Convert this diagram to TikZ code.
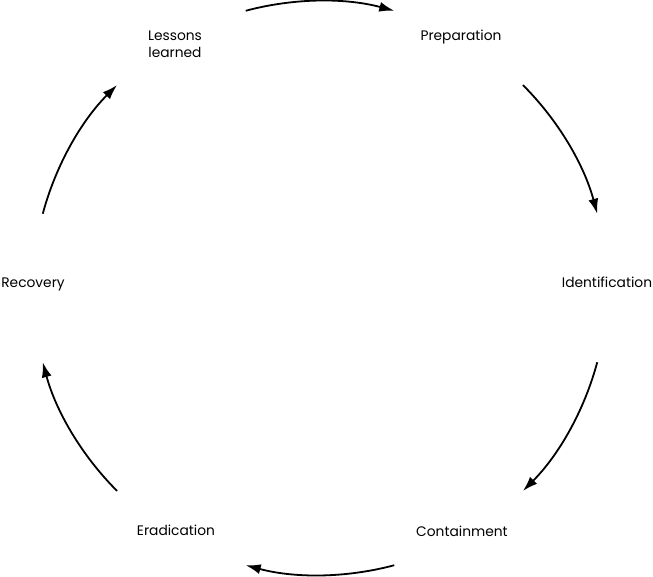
\documentclass[tikz,border=0pt]{standalone}
\usepackage{fontspec}
\setmainfont{Poppins}
\usetikzlibrary{arrows.meta}
\begin{document}
\begin{tikzpicture}[x=1pt,y=1pt,
  lbl/.style={font=\fontsize{13.8}{17}\selectfont, inner sep=0pt, align=center, anchor=base},
  cyc/.style={line width=1.8pt, -{Latex[length=15pt,width=10pt]}}]
\useasboundingbox (0,0) rectangle (653,576);
\coordinate (c) at (320,288);
\node[lbl] (lessons) at (175,518) {Lessons\\learned};
\node[lbl] (prep) at (461,535) {Preparation};
\node[lbl] (ident) at (607,288) {Identification};
\node[lbl] (cont) at (462,40) {Containment};
\node[lbl] (erad) at (176,41) {Eradication};
\node[lbl] (recov) at (33,288) {Recovery};
\coordinate (a1) at ([shift={(105:287)}]c);
\coordinate (a2) at ([shift={(45:287)}]c);
\coordinate (a3) at ([shift={(-15:287)}]c);
\coordinate (a4) at ([shift={(-75:287)}]c);
\coordinate (a5) at ([shift={(-135:287)}]c);
\coordinate (a6) at ([shift={(165:287)}]c);
\draw[cyc] (a1) arc[start angle=105, end angle=75, radius=287];
\draw[cyc] (a2) arc[start angle=45, end angle=15, radius=287];
\draw[cyc] (a3) arc[start angle=-15, end angle=-45, radius=287];
\draw[cyc] (a4) arc[start angle=-75, end angle=-105, radius=287];
\draw[cyc] (a5) arc[start angle=-135, end angle=-165, radius=287];
\draw[cyc] (a6) arc[start angle=165, end angle=135, radius=287];
\end{tikzpicture}
\end{document}
